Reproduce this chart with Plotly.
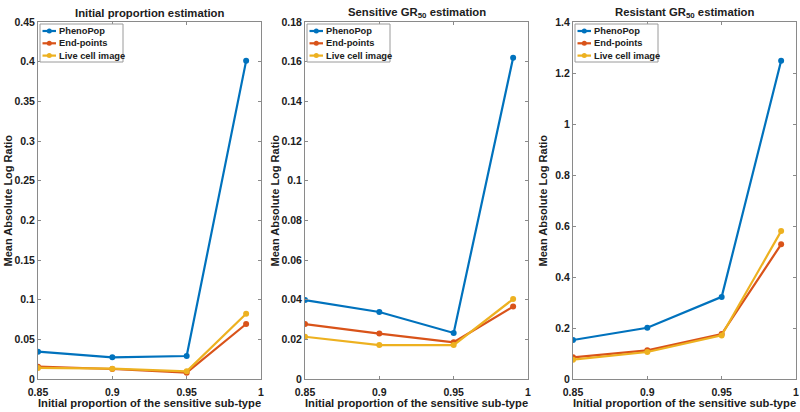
import plotly.graph_objects as go

x_vals = [0.85, 0.9, 0.95, 0.99]
series_names = ["PhenoPop", "End-points", "Live cell image"]
colors = ["#0072BD", "#D95319", "#EDB120"]

# Panel 1: Initial proportion estimation
p1_phenopop = [0.0344, 0.0273, 0.0290, 0.401]
p1_endpoints = [0.0155, 0.0126, 0.0080, 0.0693]
p1_livecell = [0.0139, 0.0130, 0.0097, 0.0823]

# Panel 2: Sensitive GR50 estimation
p2_phenopop = [0.0398, 0.0338, 0.0232, 0.162]
p2_endpoints = [0.0277, 0.0229, 0.0185, 0.0365]
p2_livecell = [0.0213, 0.0171, 0.0171, 0.0403]

# Panel 3: Resistant GR50 estimation
p3_phenopop = [0.153, 0.201, 0.322, 1.248]
p3_endpoints = [0.085, 0.1125, 0.176, 0.528]
p3_livecell = [0.0757, 0.106, 0.171, 0.580]

titles = ["<b>Initial proportion estimation</b>",
          "<b>Sensitive GR<sub>50</sub> estimation</b>",
          "<b>Resistant GR<sub>50</sub> estimation</b>"]
y_ranges = [[0, 0.45], [0, 0.18], [0, 1.4]]
y_dtick = [0.05, 0.02, 0.2]
x_ticks = [0.85, 0.9, 0.95, 1]
x_ticklabels = ["0.85", "0.9", "0.95", "1"]
x_title = "<b>Initial proportion of the sensitive sub-type</b>"
y_title = "<b>Mean Absolute Log Ratio</b>"

panels = [
    [p1_phenopop, p1_endpoints, p1_livecell],
    [p2_phenopop, p2_endpoints, p2_livecell],
    [p3_phenopop, p3_endpoints, p3_livecell],
]

W, H = 800, 412
left_px = [38, 305, 573]
right_px = [261, 528, 796]
top_px, bottom_px = 22, 379


def px(x):
    return x / W


def py(y):
    return 1 - y / H


x_domains = [[px(l), px(r)] for l, r in zip(left_px, right_px)]
y_domain = [py(bottom_px), py(top_px)]

FONT = "Liberation Sans, Arial, sans-serif"
AXC = "#8a8a8a"
TXT = "#202020"

fig = go.Figure()
layout = dict(
    width=W, height=H,
    margin=dict(l=0, r=0, t=0, b=0),
    paper_bgcolor="white", plot_bgcolor="white",
    font=dict(family=FONT, color=TXT, size=11),
    showlegend=False,
    annotations=[], shapes=[],
)

for i, data in enumerate(panels):
    ax = "" if i == 0 else str(i + 1)
    for name, vals, col in zip(series_names, data, colors):
        fig.add_trace(go.Scatter(
            x=x_vals, y=vals, name=name, mode="lines+markers",
            line=dict(color=col, width=2.2),
            marker=dict(color=col, size=6),
            xaxis="x" + ax, yaxis="y" + ax,
        ))
    common = dict(showgrid=False, zeroline=False, showline=True, linecolor=AXC,
                  linewidth=1, mirror="ticks", ticks="inside", ticklen=3,
                  tickcolor=AXC, automargin=False,
                  tickfont=dict(family=FONT, size=10.5, color=TXT, weight="bold"))
    layout["xaxis" + ax] = dict(domain=x_domains[i], range=[0.85, 1],
                                tickvals=x_ticks, ticktext=x_ticklabels,
                                ticklabelstandoff=3,
                                anchor="y" + ax, **common)
    layout["yaxis" + ax] = dict(domain=y_domain, range=y_ranges[i],
                                dtick=y_dtick[i], tick0=0,
                                anchor="x" + ax, **common)

    xc = (x_domains[i][0] + x_domains[i][1]) / 2
    layout["annotations"] += [
        dict(text=titles[i], x=xc, y=py(13), xref="paper", yref="paper",
             xanchor="center", yanchor="middle", showarrow=False,
             font=dict(family=FONT, size=11.3, color=TXT)),
        dict(text=x_title, x=xc, y=py(403), xref="paper", yref="paper",
             xanchor="center", yanchor="middle", showarrow=False,
             font=dict(family=FONT, size=11.2, color=TXT)),
        dict(text=y_title, x=px(left_px[i] - 30), y=(y_domain[0] + y_domain[1]) / 2,
             xref="paper", yref="paper", xanchor="center", yanchor="middle",
             textangle=-90, showarrow=False,
             font=dict(family=FONT, size=11, color=TXT)),
    ]

    # legend box (drawn in the top-left corner of each panel)
    lx0 = left_px[i] + 2
    lx1 = lx0 + 83
    ly0, ly1 = top_px + 2, top_px + 40
    layout["shapes"].append(dict(
        type="rect", xref="paper", yref="paper",
        x0=px(lx0), x1=px(lx1), y0=py(ly0), y1=py(ly1),
        line=dict(color="#9a9a9a", width=1), fillcolor="white", layer="above"))
    for k, (name, col) in enumerate(zip(series_names, colors)):
        yy = ly0 + 7 + 12.3 * k
        layout["shapes"].append(dict(
            type="line", xref="paper", yref="paper",
            x0=px(lx0 + 2.5), x1=px(lx0 + 16), y0=py(yy), y1=py(yy),
            line=dict(color=col, width=2.2), layer="above"))
        layout["shapes"].append(dict(
            type="circle", xref="paper", yref="paper",
            x0=px(lx0 + 6.8), x1=px(lx0 + 11.8), y0=py(yy - 2.5), y1=py(yy + 2.5),
            line=dict(color=col, width=0), fillcolor=col, layer="above"))
        layout["annotations"].append(dict(
            text="<b>" + name + "</b>", x=px(lx0 + 17), y=py(yy),
            xref="paper", yref="paper", xanchor="left", yanchor="middle",
            showarrow=False, font=dict(family=FONT, size=9.3, color=TXT)))

fig.update_layout(**layout)
fig.write_html("out.html",
               config={"displayModeBar": False},
               post_script="document.body.style.margin='0';"
                           "document.body.style.overflow='hidden';")
